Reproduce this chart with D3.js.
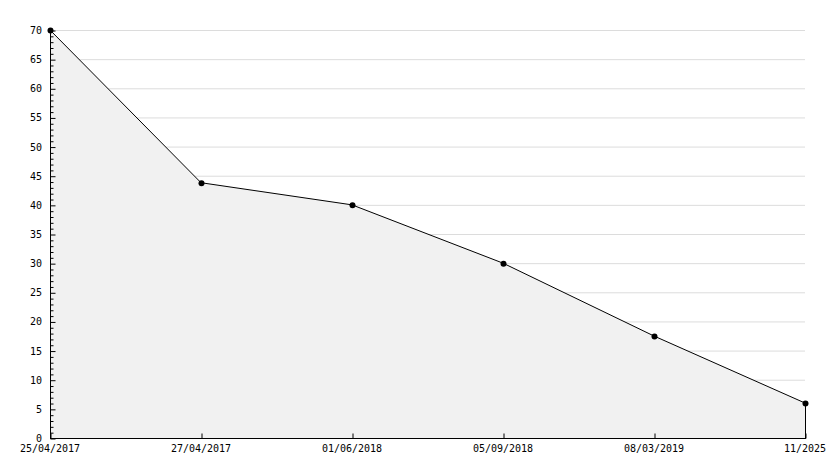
<!DOCTYPE html>
<html>
<head>
<meta charset="utf-8">
<script src="https://cdn.jsdelivr.net/npm/d3@7"></script>
<style>
  body { margin: 0; background: #fff; }
  svg { display: block; }
  text { font-family: "DejaVu Sans Mono", monospace; font-size: 10px; fill: #000; }
</style>
</head>
<body>
<svg></svg>
<script>
let dates = ["25/04/2017", "27/04/2017", "01/06/2018", "05/09/2018", "08/03/2019", "11/2025"]
let values = [70, 43.8, 40, 30, 17.5, 6]
let yTicks = [0, 5, 10, 15, 20, 25, 30, 35, 40, 45, 50, 55, 60, 65, 70]

let svgWidth = 834
let svgHeight = 468
let plotLeft = 50, plotRight = 805, plotTop = 30, plotBottom = 438

let svg = d3.select("svg")
  .attr("width", svgWidth)
  .attr("height", svgHeight)

// SCALES
let xScale = d3.scalePoint()
  .domain(dates)
  .range([plotLeft, plotRight])

let yScale = d3.scaleLinear()
  .domain([0, 70])
  .range([plotBottom, plotTop])

// GRID
svg.append("g")
  .selectAll("line")
  .data(yTicks.filter(d => d > 0))
  .enter()
  .append("line")
  .attr("x1", plotLeft)
  .attr("x2", plotRight)
  .attr("y1", d => yScale(d) + 0.5)
  .attr("y2", d => yScale(d) + 0.5)
  .attr("stroke", "#dcdcdc")

// AREA + LINE
let pts = dates.map((d, i) => [xScale(d), yScale(values[i])])

let area = d3.area()
  .x(d => d[0])
  .y0(yScale(0))
  .y1(d => d[1])

svg.append("path")
  .attr("d", area(pts))
  .attr("fill", "#f1f1f1")

svg.append("path")
  .attr("d", d3.line()(pts))
  .attr("fill", "none")
  .attr("stroke", "#000")
  .attr("stroke-width", 1)

// right edge of the area
let lastX = xScale(dates[dates.length - 1]) + 0.5
svg.append("line")
  .attr("x1", lastX)
  .attr("x2", lastX)
  .attr("y1", yScale(values[values.length - 1]))
  .attr("y2", yScale(0))
  .attr("stroke", "#000")

// Y AXIS
let yAxis = d3.axisRight(yScale)
  .tickValues(d3.range(0, 71, 1))
  .tickSize(3)
  .tickFormat("")

let yg = svg.append("g")
  .attr("transform", `translate(${plotLeft + 0.5}, 0.5)`)
  .call(yAxis)
yg.select(".domain").remove()
yg.selectAll(".tick line")
  .attr("x2", d => d % 5 === 0 ? 5 : 3)
  .attr("stroke", "#000")

svg.append("line")
  .attr("x1", plotLeft + 0.5).attr("x2", plotLeft + 0.5)
  .attr("y1", plotTop).attr("y2", plotBottom + 1)
  .attr("stroke", "#000")

svg.append("g")
  .selectAll("text")
  .data(yTicks)
  .enter()
  .append("text")
  .attr("x", 42)
  .attr("y", d => yScale(d) + 4)
  .attr("text-anchor", "end")
  .text(d => d)

// X AXIS
let xAxis = d3.axisTop(xScale)
  .tickSize(5)
  .tickFormat("")

let xg = svg.append("g")
  .attr("transform", `translate(0.5, ${plotBottom + 0.5})`)
  .call(xAxis)
xg.select(".domain").remove()
xg.selectAll(".tick line").attr("stroke", "#000")

svg.append("line")
  .attr("x1", plotLeft).attr("x2", plotRight + 1)
  .attr("y1", plotBottom + 0.5).attr("y2", plotBottom + 0.5)
  .attr("stroke", "#000")

svg.append("g")
  .selectAll("text")
  .data(dates)
  .enter()
  .append("text")
  .attr("x", d => xScale(d))
  .attr("y", 452)
  .attr("text-anchor", "middle")
  .text(d => d)

// MARKERS
svg.append("g")
  .selectAll("circle")
  .data(pts)
  .enter()
  .append("circle")
  .attr("cx", d => d[0] + 0.5)
  .attr("cy", d => d[1] + 0.5)
  .attr("r", 3)
  .attr("fill", "#000")
</script>
</body>
</html>
